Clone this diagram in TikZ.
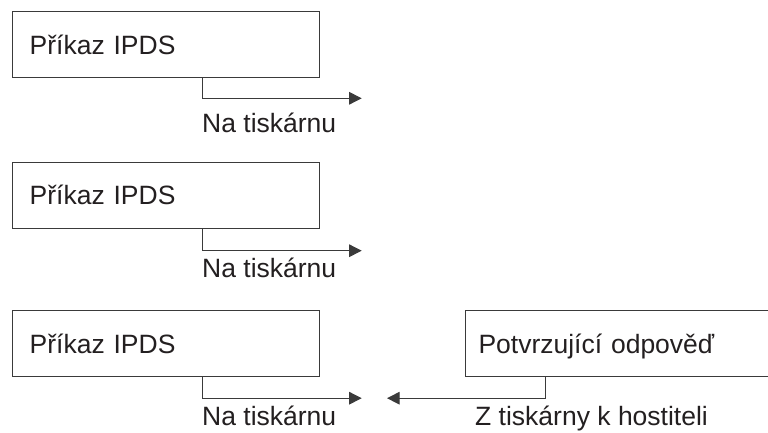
\documentclass[tikz,border=0pt]{standalone}
\usepackage{fontspec}
\setmainfont{Liberation Sans}
\usetikzlibrary{arrows.meta}

\definecolor{linegray}{HTML}{3A3A3A}
\definecolor{textgray}{HTML}{231F20}

\begin{document}
\begin{tikzpicture}[x=1pt, y=1pt,
    cmd/.style = {draw=linegray, line width=1pt, minimum height=66pt, text height=19pt, text depth=0pt,
                  align=left, inner xsep=17pt, text width=272.6pt, minimum width=306.6pt, text=textgray},
    ack/.style = {cmd, inner xsep=13.5pt, text width=288pt, minimum width=315pt},
    lbl/.style = {anchor=base west, inner sep=0pt, text=textgray},
    arr/.style = {draw=linegray, line width=1pt, -{Triangle[length=12.5pt, width=12.5pt]}},
    font=\fontsize{26.5}{30}\selectfont]
    \useasboundingbox (0, 0) rectangle (768, 432);

    \node[cmd] at (166, 387) (C1) {Příkaz IPDS};
    \node[cmd] at (166, 237) (C2) {Příkaz IPDS};
    \node[cmd] at (166, 88.5) (C3) {Příkaz IPDS};
    \node[ack] at (622.5, 88.5) (R) {Potvrzující odpověď};

    \coordinate (T1) at (361.7, 333.7);
    \coordinate (T2) at (361.7, 181.3);
    \coordinate (T3) at (361.7, 33.8);
    \coordinate (H) at (387, 33.8);

    \draw[arr] (C1.south west) ++(190.6, 0) |- (T1);
    \draw[arr] (C2.south west) ++(190.6, 0) |- (T2);
    \draw[arr] (C3.south west) ++(190.6, 0) |- (T3);
    \draw[arr] (R.south west) ++(80.7, 0) |- (H);

    \node[lbl] at (202, 300) (L1) {Na tiskárnu};
    \node[lbl] at (202, 154.7) (L2) {Na tiskárnu};
    \node[lbl] at (202, 6.5) (L3) {Na tiskárnu};
    \node[lbl] at (475, 6.5) (L4) {Z tiskárny k hostiteli};
\end{tikzpicture}
\end{document}
